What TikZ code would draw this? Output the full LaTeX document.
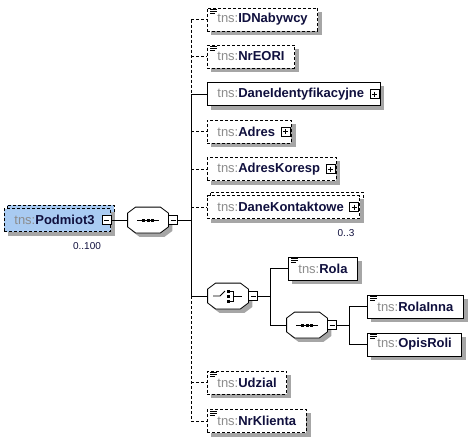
\documentclass[tikz,border=0pt]{standalone}
\usepackage{fontspec}
\setmainfont{Liberation Sans}
\usetikzlibrary{backgrounds}
\definecolor{podblue}{HTML}{A9CBF2}
\definecolor{tnsgray}{HTML}{8C8C8C}
\definecolor{namenavy}{HTML}{10103E}
\colorlet{shadowgray}{black!35}
\newcommand{\tns}[1]{{\color{tnsgray}tns:}{\color{namenavy}\bfseries #1}}
% octagon outline round a compositor node, #2 = shift
\newcommand{\octpath}[2]{([#2,xshift=8pt]#1.north west) -- ([#2,xshift=-8pt]#1.north east)
  -- ([#2,yshift=-6pt]#1.north east) -- ([#2,yshift=6pt]#1.south east)
  -- ([#2,xshift=-8pt]#1.south east) -- ([#2,xshift=8pt]#1.south west)
  -- ([#2,yshift=6pt]#1.south west) -- ([#2,yshift=-6pt]#1.north west) -- cycle}
\newcommand{\octagon}[1]{%
  \path[fill=shadowgray] \octpath{#1}{xshift=4pt,yshift=-4pt};
  \draw[fill=white] \octpath{#1}{xshift=0pt};}
\newcommand{\seqicon}[1]{%
  \begin{scope}[shift={(#1.center)}]
    \draw (-11,0) -- (11,0);
    \foreach \d in {-4.5,0,4.5} \fill (\d-1.5,-1.5) rectangle (\d+1.5,1.5);
  \end{scope}}
\newcommand{\choiceicon}[1]{%
  \begin{scope}[shift={(#1.center)}]
    \draw (-15,0) -- (-8,0) -- (-3,-5);
    \foreach \d in {-5,0,5} \fill (-1.5,\d-1.5) rectangle (1.5,\d+1.5);
    \draw (1.5,-5) -- (5,-5) -- (5,5) -- (1.5,5) (5,0) -- (14,0);
  \end{scope}}

\begin{document}
\begin{tikzpicture}[x=1pt,y=-1pt,
  font=\fontsize{13}{15}\selectfont,
  line width=0.8pt,
  el/.style={draw,fill=white,minimum height=23pt,inner xsep=10pt,inner ysep=0pt,anchor=west},
  optel/.style={el,dash pattern=on 3pt off 2pt},
  cplx/.style={execute at end node={\hspace{6pt}}},
  comp/.style={minimum width=40pt,minimum height=25pt,inner sep=0pt},
  pm/.style={draw,fill=white,minimum size=9pt,inner sep=0pt,line width=0.6pt},
  plus/.style={pm,path picture={\draw[line width=0.6pt] ([xshift=2pt]path picture bounding box.west) -- ([xshift=-2pt]path picture bounding box.east) ([yshift=-2pt]path picture bounding box.north) -- ([yshift=2pt]path picture bounding box.south);}},
  minus/.style={pm,path picture={\draw[line width=0.6pt] ([xshift=2pt]path picture bounding box.west) -- ([xshift=-2pt]path picture bounding box.east);}},
  opt/.style={dash pattern=on 3pt off 2pt},
  occ/.style={font=\fontsize{10}{12}\selectfont,text=namenavy},
  icon/.style={line width=0.9pt},
]
\useasboundingbox (0,0) rectangle (469,439);
% root element
\node[optel,cplx,fill=podblue] (pod) at (4,220) {\tns{Podmiot3}};
\node[minus] (pod-m) at ([xshift=-4pt]pod.east) {};
\node[occ] (pod-occ) at (87,246) {0..100};
% sequence
\node[comp] (seq) at (148,220) {};
\octagon{seq}
\seqicon{seq}
\node[minus,anchor=west] (seq-m) at (seq.east) {};
\coordinate (spine) at (191,220);
% children
\node[optel] (idn) at (207,19.5) {\tns{IDNabywcy}};
\node[optel] (nreori) at (207,56.5) {\tns{NrEORI}};
\node[el,cplx] (daneid) at (207,94) {\tns{DaneIdentyfikacyjne}};
\node[optel,cplx] (adres) at (207,131.5) {\tns{Adres}};
\node[optel,cplx] (adresk) at (207,169) {\tns{AdresKoresp}};
\node[optel,cplx] (danek) at (207,207) {\tns{DaneKontaktowe}};
\node[occ] (danek-occ) at (346,233) {0..3};
\foreach \n in {daneid,adres,adresk,danek} \node[plus] (\n-p) at ([xshift=-6pt]\n.east) {};
% choice
\node[comp] (choice) at (228,296) {};
\octagon{choice}
\choiceicon{choice}
\node[minus,anchor=west] (choice-m) at (choice.east) {};
\coordinate (cspine) at (270,296);
\node[el] (rola) at (288,268.5) {\tns{Rola}};
\node[comp] (seq2) at (307,325) {};
\octagon{seq2}
\seqicon{seq2}
\node[minus,anchor=west] (seq2-m) at (seq2.east) {};
\coordinate (sspine) at (349,325);
\node[el] (rolainna) at (367,306.5) {\tns{RolaInna}};
\node[el] (opis) at (367,344.5) {\tns{OpisRoli}};
\node[optel] (udzial) at (207,382.5) {\tns{Udzial}};
\node[optel] (nrk) at (207,421) {\tns{NrKlienta}};
% back copies and shadows
\begin{scope}[on background layer]
  \draw[opt,fill=podblue] ([xshift=3pt,yshift=3pt]pod.south west) rectangle ([xshift=3pt,yshift=3pt]pod.north east);
  \draw[opt,fill=white] ([xshift=3pt,yshift=3pt]danek.south west) rectangle ([xshift=3pt,yshift=3pt]danek.north east);
  \foreach \n in {pod,idn,nreori,daneid,adres,adresk,danek,rola,rolainna,opis,udzial,nrk}
    \path[fill=shadowgray] ([xshift=4pt,yshift=-4pt]\n.south west) rectangle ([xshift=4pt,yshift=-4pt]\n.north east);
\end{scope}
% simple type marks
\foreach \n in {idn,nreori,rola,rolainna,opis,udzial,nrk}
  \draw[icon] ([xshift=3pt,yshift=-2pt]\n.north west) -- ++(7pt,0pt)
    ([xshift=3pt,yshift=-4pt]\n.north west) -- ++(7pt,0pt)
    ([xshift=3pt,yshift=-6pt]\n.north west) -- ++(5pt,0pt);
% connectors
\draw (pod-m) -- (seq);
\draw (seq-m) -- (seq-m -| spine);
\draw[opt] (idn.west -| spine) -- (daneid.west -| spine);
\draw (daneid.west -| spine) -- (choice.west -| spine);
\draw[opt] (choice.west -| spine) -- (nrk.west -| spine);
\foreach \n in {idn,nreori,adres,adresk,danek,udzial,nrk} \draw[opt] (\n.west -| spine) -- (\n.west);
\draw (daneid.west -| spine) -- (daneid.west);
\draw (choice.west -| spine) -- (choice.west);
\draw (choice-m) -- (choice-m -| cspine);
\draw (rola.west -| cspine) -- (seq2.west -| cspine);
\draw (rola.west -| cspine) -- (rola.west);
\draw (seq2.west -| cspine) -- (seq2.west);
\draw (seq2-m) -- (seq2-m -| sspine);
\draw (rolainna.west -| sspine) -- (opis.west -| sspine);
\draw (rolainna.west -| sspine) -- (rolainna.west);
\draw (opis.west -| sspine) -- (opis.west);
\end{tikzpicture}
\end{document}
